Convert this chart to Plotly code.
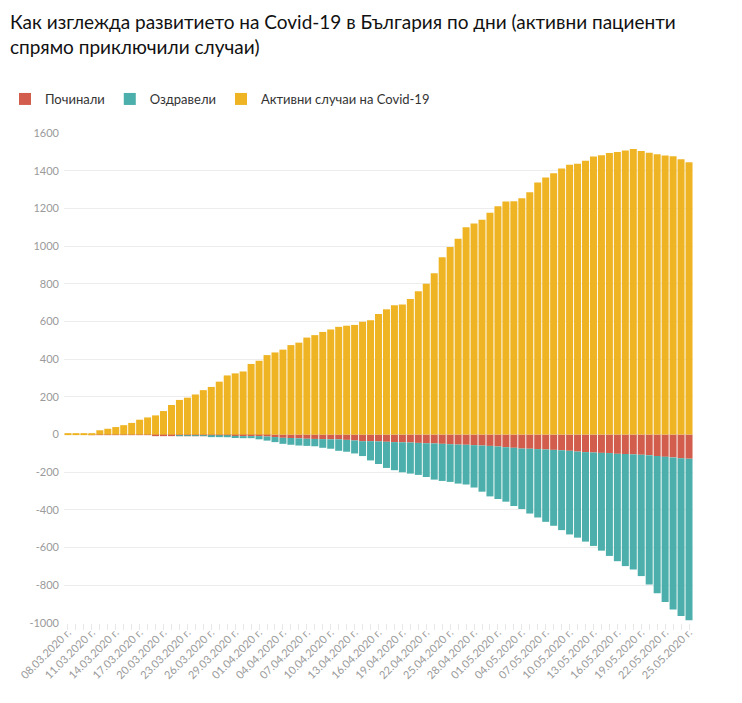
import datetime as dt
import plotly.graph_objects as go

# ---- data ----
start = dt.date(2020, 3, 8)
n_days = 79
dates = [(start + dt.timedelta(days=i)).strftime("%d.%m.%Y г.") for i in range(n_days)]

active = [4, 4, 7, 7, 23, 31, 40, 50, 62, 79, 91, 102, 125, 157, 184, 196, 213, 236, 253, 281,
          314, 325, 335, 375, 392, 422, 436, 451, 475, 488, 515, 528, 545, 558, 572, 578, 582, 599,
          607, 640, 665, 686, 691, 720, 761, 801, 856, 941, 996, 1040, 1100, 1120, 1140, 1177, 1212,
          1237, 1239, 1255, 1286, 1338, 1364, 1387, 1412, 1432, 1438, 1454, 1476, 1483, 1494, 1500,
          1508, 1516, 1505, 1496, 1488, 1482, 1478, 1461, 1446]

deaths = [0, 0, 0, 1, 1, 1, 2, 2, 2, 2, 2, 3, 3, 3, 3, 3, 3, 3, 3, 3,
          4, 7, 8, 8, 8, 10, 13, 17, 18, 20, 22, 23, 24, 25, 25, 28, 31, 35, 35, 36,
          38, 40, 41, 42, 44, 46, 47, 49, 51, 53, 54, 56, 58, 60, 63, 67, 70, 74, 75, 77,
          79, 81, 83, 86, 90, 93, 95, 97, 98, 102, 103, 105, 107, 109, 114, 118, 121, 126, 128]

recovered = [0, 0, 0, 0, 0, 0, 0, 0, 0, 0, 0, 0, 0, 0, 1, 2, 3, 3, 6, 6,
             10, 11, 11, 11, 17, 22, 27, 32, 36, 38, 38, 39, 46, 50, 61, 63, 69, 79, 102, 120,
             139, 149, 159, 165, 170, 179, 192, 197, 200, 207, 211, 225, 245, 268, 279, 289, 309, 321, 344, 363,
             384, 403, 424, 444, 457, 475, 496, 519, 546, 570, 595, 611, 644, 686, 728, 770, 807, 837, 858]

y_tickvals = [-1000, -800, -600, -400, -200, 0, 200, 400, 600, 800, 1000, 1200, 1400, 1600]
y_ticktext = ["-1000", "-800", "-600", "-400", "-200", "0", "200", "400", "600", "800",
              "1000", "1200", "1400", "1600"]

series_names = ["Починали", "Оздравели", "Активни случаи на Covid-19"]
title_text = ("Как изглежда развитието на Covid-19 в България по дни (активни пациенти"
              "<br>спрямо приключили случаи)")

# ---- figure ----
W, H = 742, 703
ML, MR, MT, MB = 64, 49, 131, 80
PW, PH = W - ML - MR, H - MT - MB

x_idx = list(range(n_days))
label_idx = x_idx[::3]
label_txt = [dates[i] for i in label_idx]

fig = go.Figure()
fig.add_trace(go.Bar(x=x_idx, y=[-v for v in deaths], name=series_names[0],
                     marker=dict(color="#d35d4c", line=dict(width=0)),
                     customdata=dates, hovertemplate="%{customdata}: %{y}<extra></extra>"))
fig.add_trace(go.Bar(x=x_idx, y=[-v for v in recovered], name=series_names[1],
                     marker=dict(color="#4cafab", line=dict(width=0)),
                     customdata=dates, hovertemplate="%{customdata}: %{y}<extra></extra>"))
fig.add_trace(go.Bar(x=x_idx, y=active, name=series_names[2],
                     marker=dict(color="#efb424", line=dict(width=0)),
                     customdata=dates, hovertemplate="%{customdata}: %{y}<extra></extra>"))

fig.add_annotation(
    text=title_text, xref="paper", yref="paper",
    x=(8 - ML) / PW, y=1 + (MT - 5) / PH, xanchor="left", yanchor="top",
    align="left", showarrow=False,
    font=dict(family="Lato, 'Noto Sans', sans-serif", size=19, color="#111"),
)

fig.update_layout(
    width=W, height=H,
    barmode="relative", bargap=0.12,
    paper_bgcolor="white", plot_bgcolor="white",
    font=dict(family="Lato, 'Noto Sans', sans-serif", color="#333"),
    margin=dict(l=ML, r=MR, t=MT, b=MB),
    legend=dict(orientation="h", xref="container", yref="container",
                x=5 / W, xanchor="left", y=1 - 84 / H, yanchor="top",
                font=dict(size=13, color="#333"), traceorder="normal",
                itemsizing="constant"),
    showlegend=True,
)
fig.update_xaxes(
    range=[-0.5, n_days - 0.5], showgrid=False, zeroline=False, showline=False,
    tickmode="array", tickvals=label_idx, ticktext=label_txt, tickangle=-45,
    ticks="", tickfont=dict(size=11, color="#9a9a9a"),
    minor=dict(dtick=1, tick0=0, ticks="outside", ticklen=6, tickcolor="#e8e8e8", tickwidth=1, showgrid=False),
)
fig.update_yaxes(
    range=[-1000, 1600], tickmode="array", tickvals=y_tickvals, ticktext=y_ticktext,
    showgrid=True, gridcolor="#ececec", gridwidth=1, zeroline=False, showline=False,
    tickfont=dict(size=11, color="#9a9a9a"), ticks="", ticklabelstandoff=4,
)

fig.write_html("out.html")
